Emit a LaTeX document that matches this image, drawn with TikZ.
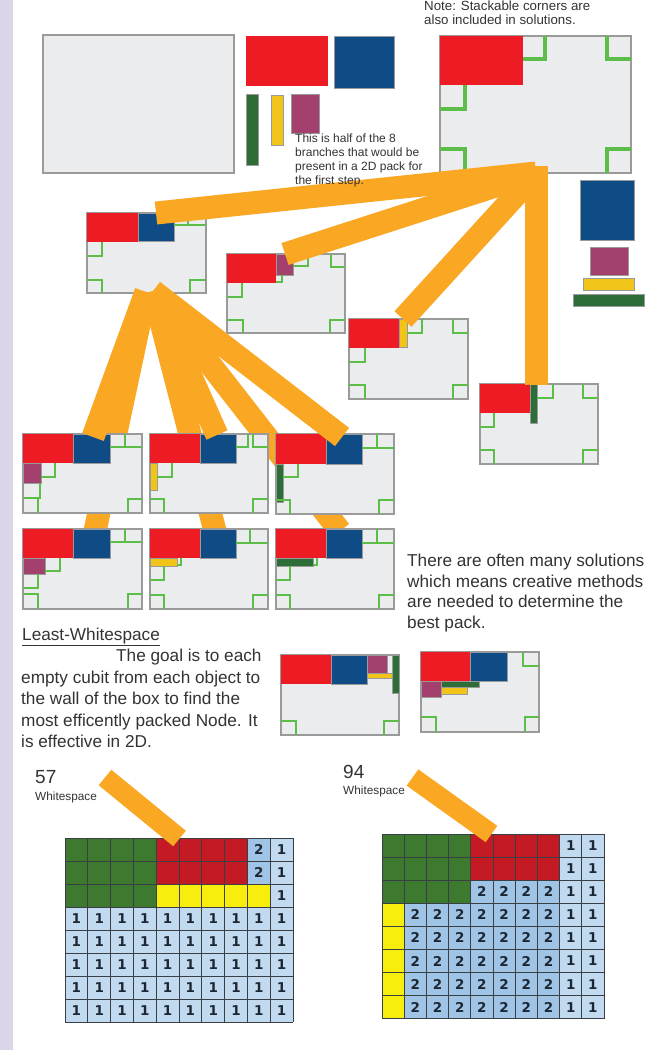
\documentclass[tikz,border=0pt]{standalone}
\usepackage{fontspec}
\setmainfont{Liberation Sans}
\newfontfamily\numfont{DejaVu Sans}
\definecolor{cred}{HTML}{ED1C24}
\definecolor{cblue}{HTML}{0F4C86}
\definecolor{cgreen}{HTML}{2D6E38}
\definecolor{cyellow}{HTML}{F0C419}
\definecolor{cpurple}{HTML}{A4406E}
\definecolor{boxfill}{HTML}{EBECEE}
\definecolor{boxline}{HTML}{9A9A9A}
\definecolor{mkgreen}{HTML}{5CBD48}
\definecolor{corange}{HTML}{FAA723}
\definecolor{lav}{HTML}{DCD5EA}
\definecolor{txt}{HTML}{333333}
\definecolor{gGreen}{HTML}{3D7A30}
\definecolor{gRed}{HTML}{C41A24}
\definecolor{gYellow}{HTML}{F8EE0E}
\definecolor{gBlueA}{HTML}{C2DAF0}
\definecolor{gBlueB}{HTML}{9FC4E6}
\definecolor{gLine}{HTML}{3A3F45}
\definecolor{gNum}{HTML}{1C2733}
\begin{document}
\begin{tikzpicture}[x=1pt,y=-1pt,
 packbox/.style={fill=boxfill,draw=boxline,line width=1.3pt},
 redp/.style={fill=cred},
 bluep/.style={fill=cblue,draw=boxline,line width=0.6pt},
 greenp/.style={fill=cgreen,draw=boxline,line width=0.6pt},
 yellowp/.style={fill=cyellow,draw=boxline,line width=0.6pt},
 purplep/.style={fill=cpurple,draw=boxline,line width=0.6pt},
 mk/.style={draw=mkgreen,line width=2.6pt},
 mkbig/.style={draw=mkgreen,line width=3.6pt},
 mkthin/.style={draw=mkgreen,line width=1.2pt},
 band/.style={draw=corange,line width=23pt},
 bandsm/.style={draw=corange,line width=20pt},
 lbl/.style={text=txt,inner sep=0pt,anchor=base west},
 tsmall/.style={lbl,font=\fontsize{12}{14}\selectfont},
 tnote/.style={lbl,font=\fontsize{13.3}{15}\selectfont},
 tbody/.style={lbl,font=\fontsize{17.2}{20}\selectfont},
 tnum/.style={lbl,font=\fontsize{19}{22}\selectfont},
 tws/.style={lbl,font=\fontsize{11.8}{13}\selectfont},
 gridln/.style={draw=gLine,line width=0.8pt},
 gnum/.style={text=gNum,inner sep=0pt,font=\numfont\bfseries\fontsize{13.5}{14}\selectfont}
]
\useasboundingbox (0,0) rectangle (668,1050);
\fill[white] (0,0) rectangle (668,1050);
\fill[lav] (0,0) rectangle (13,1050);

% ---------- top: empty box and pieces ----------
\path[packbox] (43,35) rectangle (234,173);
\path[redp] (246,36) rectangle (328,86);
\path[bluep] (334,36) rectangle (394,88);
\path[greenp] (246,94) rectangle (258,165);
\path[yellowp] (271,95) rectangle (283,145);
\path[purplep] (291,94) rectangle (319,133);

% ---------- top right box ----------
\path[packbox] (440,36) rectangle (631,173);
\path[redp] (440,36) rectangle (523,85);
\draw[mkbig] (523,59) -- (545,59) -- (545,36);
\draw[mkbig] (607,36) -- (607,59) -- (631,59);
\draw[mkbig] (440,109) -- (465,109) -- (465,85);
\draw[mkbig] (440,149) -- (465,149) -- (465,173);
\draw[mkbig] (631,149) -- (607,149) -- (607,173);

% remaining pieces column
\path[bluep] (580,180) rectangle (634,240);
\path[purplep] (590,247) rectangle (628,275);
\path[yellowp] (583,278) rectangle (634,290);
\path[greenp] (573,294) rectangle (644,306);

% ---------- children ----------
\begin{scope}[shift={(87,213)}]
\path[packbox] (0,0) rectangle (119,80);
\path[redp] (0,0) rectangle (51,29);
\path[bluep] (51,0) rectangle (87,28);
\draw[mk] (87,12) -- (119,12) (101,0) -- (101,12);
\draw[mk] (0,43) -- (15,43) -- (15,29);
\draw[mk] (0,67) -- (15,67) -- (15,80);
\draw[mk] (119,67) -- (103,67) -- (103,80);
\end{scope}

\begin{scope}[shift={(227,254)}]
\path[packbox] (0,0) rectangle (118,79);
\path[redp] (0,0) rectangle (49,29);
\path[purplep] (49,0) rectangle (66,21);
\draw[mkthin] (49,28) -- (55,28) -- (55,21);
\draw[mk] (66,12) -- (81,12) -- (81,0);
\draw[mk] (104,0) -- (104,13) -- (118,13);
\draw[mk] (0,43) -- (15,43) -- (15,29);
\draw[mk] (0,66) -- (16,66) -- (16,79);
\draw[mk] (118,66) -- (103,66) -- (103,79);
\end{scope}

\begin{scope}[shift={(349,319)}]
\path[packbox] (0,0) rectangle (119,80);
\path[redp] (0,0) rectangle (50,29);
\path[yellowp] (50,0) rectangle (58,28);
\draw[mk] (58,14) -- (73,14) -- (73,0);
\draw[mk] (104,0) -- (104,14) -- (119,14);
\draw[mk] (0,43) -- (16,43) -- (16,29);
\draw[mk] (0,66) -- (16,66) -- (16,80);
\draw[mk] (119,66) -- (104,66) -- (104,80);
\end{scope}

\begin{scope}[shift={(480,384)}]
\path[packbox] (0,0) rectangle (118,80);
\path[redp] (0,0) rectangle (50,29);
\path[greenp] (50,0) rectangle (57,39);
\draw[mk] (57,14) -- (73,14) -- (73,0);
\draw[mk] (103,0) -- (103,14) -- (118,14);
\draw[mk] (0,43) -- (14,43) -- (14,29);
\draw[mk] (0,66) -- (14,66) -- (14,80);
\draw[mk] (118,66) -- (103,66) -- (103,80);
\end{scope}

% ---------- level 1 bands ----------
\coordinate (A1) at (536,173);
\coordinate (A1v) at (536,166);
\coordinate (c1t) at (156,213);
\coordinate (c2t) at (285,254);
\coordinate (c3t) at (403,319);
\coordinate (c4t) at (536,385);
\draw[band] (c1t) -- (A1);
\draw[band] (c2t) -- (A1);
\draw[band] (c3t) -- (A1);
\draw[band] (c4t) -- (A1v);

% texts top
\node[tnote] (note1) at (424,10.5) {Note: Stackable corners are};
\node[tnote] (note2) at (424,24) {also included in solutions.};
\node[tsmall] (h1) at (295,142) {This is half of the 8};
\node[tsmall] (h2) at (295,156.3) {branches that would be};
\node[tsmall] (h3) at (295,170.6) {present in a 2D pack for};
\node[tsmall] (h4) at (295,184.9) {the first step.};

% ---------- level 2 bands (to second row, behind) ----------
\coordinate (A2L) at (146,292);
\coordinate (A2R) at (153,291);
\coordinate (g1t) at (93,437);
\coordinate (g2t) at (217,435);
\coordinate (g3t) at (342,437);
\coordinate (g4t) at (95,531);
\coordinate (g5t) at (215,531);
\coordinate (g6t) at (340,531);
\draw[band] (A2L) -- (g4t);
\draw[band] (A2R) -- (g5t);
\draw[band] (A2R) -- (g6t);

% ---------- grandchildren row 2 ----------
\begin{scope}[shift={(23,529)}]
\path[packbox] (0,0) rectangle (119,80);
\path[redp] (0,0) rectangle (50,29);
\path[bluep] (50,0) rectangle (87,29);
\path[purplep] (0,29) rectangle (22,45);
\draw[mk] (87,13) -- (119,13) (102,0) -- (102,13);
\draw[mk] (22,42) -- (37,42) -- (37,29);
\draw[mk] (0,59) -- (15,59) -- (15,45);
\draw[mk] (0,65) -- (15,65) -- (15,80);
\draw[mk] (119,65) -- (105,65) -- (105,80);
\end{scope}

\begin{scope}[shift={(150,529)}]
\path[packbox] (0,0) rectangle (118,80);
\path[redp] (0,0) rectangle (50,29);
\path[bluep] (50,0) rectangle (86,29);
\path[yellowp] (0,29) rectangle (27,37);
\draw[mkthin] (27,36) -- (31,36) -- (31,29);
\draw[mk] (86,14) -- (118,14) (100,0) -- (100,14);
\draw[mk] (0,51) -- (14,51) -- (14,37);
\draw[mk] (0,66) -- (14,66) -- (14,80);
\draw[mk] (118,66) -- (103,66) -- (103,80);
\end{scope}

\begin{scope}[shift={(276,529)}]
\path[packbox] (0,0) rectangle (118,80);
\path[redp] (0,0) rectangle (50,29);
\path[bluep] (50,0) rectangle (86,29);
\path[greenp] (0,29) rectangle (37,37);
\draw[mkthin] (37,36) -- (41,36) -- (41,29);
\draw[mk] (86,14) -- (118,14) (101,0) -- (101,14);
\draw[mk] (0,51) -- (14,51) -- (14,37);
\draw[mk] (0,66) -- (14,66) -- (14,80);
\draw[mk] (118,66) -- (103,66) -- (103,80);
\end{scope}

% ---------- grandchildren row 1 ----------
\begin{scope}[shift={(23,434)}]
\path[packbox] (0,0) rectangle (119,79);
\path[redp] (0,0) rectangle (50,29);
\path[bluep] (50,0) rectangle (87,29);
\path[purplep] (0,29) rectangle (18,49);
\draw[mk] (87,13) -- (119,13) (102,0) -- (102,13);
\draw[mk] (18,43) -- (32,43) -- (32,29);
\draw[mk] (0,64) -- (17,64) -- (17,49);
\draw[mk] (15,64) -- (15,79);
\draw[mk] (119,65) -- (105,65) -- (105,79);
\end{scope}

\begin{scope}[shift={(150,434)}]
\path[packbox] (0,0) rectangle (118,79);
\path[redp] (0,0) rectangle (50,29);
\path[bluep] (50,0) rectangle (86,29);
\path[yellowp] (0,29) rectangle (7,56);
\draw[mk] (86,13) -- (98,13) -- (98,0);
\draw[mk] (103,0) -- (103,13) -- (118,13);
\draw[mk] (7,43) -- (22,43) -- (22,29);
\draw[mk] (0,65) -- (14,65) -- (14,79);
\draw[mk] (118,65) -- (103,65) -- (103,79);
\end{scope}

\begin{scope}[shift={(276,434)}]
\path[packbox] (0,0) rectangle (118,80);
\path[redp] (0,0) rectangle (50,30);
\path[bluep] (50,0) rectangle (86,30);
\path[greenp] (0,30) rectangle (7,68);
\draw[mk] (86,14) -- (118,14) (101,0) -- (101,14);
\draw[mk] (7,43) -- (22,43) -- (22,30);
\draw[mk] (0,66) -- (14,66) -- (14,80);
\draw[mk] (118,66) -- (103,66) -- (103,80);
\end{scope}

% ---------- level 2 bands (to first row) ----------
\draw[band] (A2L) -- (g1t);
\draw[band] (A2R) -- (g2t);
\draw[band] (A2R) -- (g3t);

% ---------- text right ----------
\node[tbody] (s1) at (407,566.5) {There are often many solutions};
\node[tbody] (s2) at (407,587) {which means creative methods};
\node[tbody] (s3) at (407,607.5) {are needed to determine the};
\node[tbody] (s4) at (407,628) {best pack.};

% ---------- solutions ----------
\begin{scope}[shift={(281,655)}]
\path[packbox] (0,0) rectangle (118,80);
\path[redp] (0,0) rectangle (50,29);
\path[bluep] (50,0) rectangle (86,29);
\path[purplep] (86,0) rectangle (106,18);
\path[yellowp] (86,18) rectangle (111,23);
\path[greenp] (111,0) rectangle (118,38);
\draw[mk] (0,66) -- (15,66) -- (15,80);
\draw[mk] (118,66) -- (103,66) -- (103,80);
\end{scope}

\begin{scope}[shift={(421,652)}]
\path[packbox] (0,0) rectangle (118,80);
\path[redp] (0,0) rectangle (49,29);
\path[bluep] (49,0) rectangle (86,29);
\path[greenp] (20,29) rectangle (58,35);
\path[purplep] (0,29) rectangle (20,45);
\path[yellowp] (20,35) rectangle (46,42);
\draw[mk] (102,0) -- (102,14) -- (118,14);
\draw[mk] (0,65) -- (15,65) -- (15,80);
\draw[mk] (118,65) -- (104,65) -- (104,80);
\end{scope}

% ---------- left paragraph ----------
\node[tbody] (lw) at (22,640) {\underline{Least-Whitespace}};
\node[tbody] (p1) at (116,661.6) {The goal is to each};
\node[tbody] (p2) at (21,683) {empty cubit from each object to};
\node[tbody] (p3) at (21,704.6) {the wall of the box to find the};
\node[tbody] (p4) at (21,726.2) {most efficently packed Node. It};
\node[tbody] (p5) at (21,747.8) {is effective in 2D.};

% ---------- whitespace labels ----------
\node[tnum] (n57) at (35,783) {57};
\node[tws] (w57) at (35,800) {Whitespace};
\node[tnum] (n94) at (343,778) {94};
\node[tws] (w94) at (343,794) {Whitespace};

% ---------- grid 1 ----------
\begin{scope}[shift={(65,838)},x=22.8pt,y=-23pt]
\fill[gBlueA] (0,0) rectangle (10,8);
\fill[gBlueB] (8,0) rectangle (9,2);
\fill[gGreen] (0,0) rectangle (4,3);
\fill[gRed] (4,0) rectangle (8,2);
\fill[gYellow] (4,2) rectangle (9,3);
\foreach \i in {0,...,10} \draw[gridln] (\i,0) -- (\i,8);
\foreach \j in {0,...,8} \draw[gridln] (0,\j) -- (10,\j);
\foreach \r in {0,1} \node[gnum] at (8.5,\r+0.5) {2};
\foreach \r in {0,1,2} \node[gnum] at (9.5,\r+0.5) {1};
\foreach \r in {3,...,7} \foreach \c in {0,...,9} \node[gnum] at (\c+0.5,\r+0.5) {1};
\end{scope}

% ---------- grid 2 ----------
\begin{scope}[shift={(382,834)},x=22.2pt,y=-23.1pt]
\fill[gBlueA] (0,0) rectangle (10,8);
\fill[gBlueB] (4,2) rectangle (8,3);
\fill[gBlueB] (1,3) rectangle (8,8);
\fill[gGreen] (0,0) rectangle (4,3);
\fill[gRed] (4,0) rectangle (8,2);
\fill[gYellow] (0,3) rectangle (1,8);
\foreach \i in {0,...,10} \draw[gridln] (\i,0) -- (\i,8);
\foreach \j in {0,...,8} \draw[gridln] (0,\j) -- (10,\j);
\foreach \r in {0,...,7} \foreach \c in {8,9} \node[gnum] at (\c+0.5,\r+0.5) {1};
\foreach \c in {4,...,7} \node[gnum] at (\c+0.5,2.5) {2};
\foreach \r in {3,...,7} \foreach \c in {1,...,7} \node[gnum] at (\c+0.5,\r+0.5) {2};
\end{scope}

% ---------- bottom bands ----------
\coordinate (b1s) at (105,777.5);
\coordinate (b1e) at (179.5,838.5);
\coordinate (b2s) at (412.5,777.5);
\coordinate (b2e) at (491.5,834);
\draw[bandsm] (b1s) -- (b1e);
\draw[bandsm] (b2s) -- (b2e);
\end{tikzpicture}
\end{document}
